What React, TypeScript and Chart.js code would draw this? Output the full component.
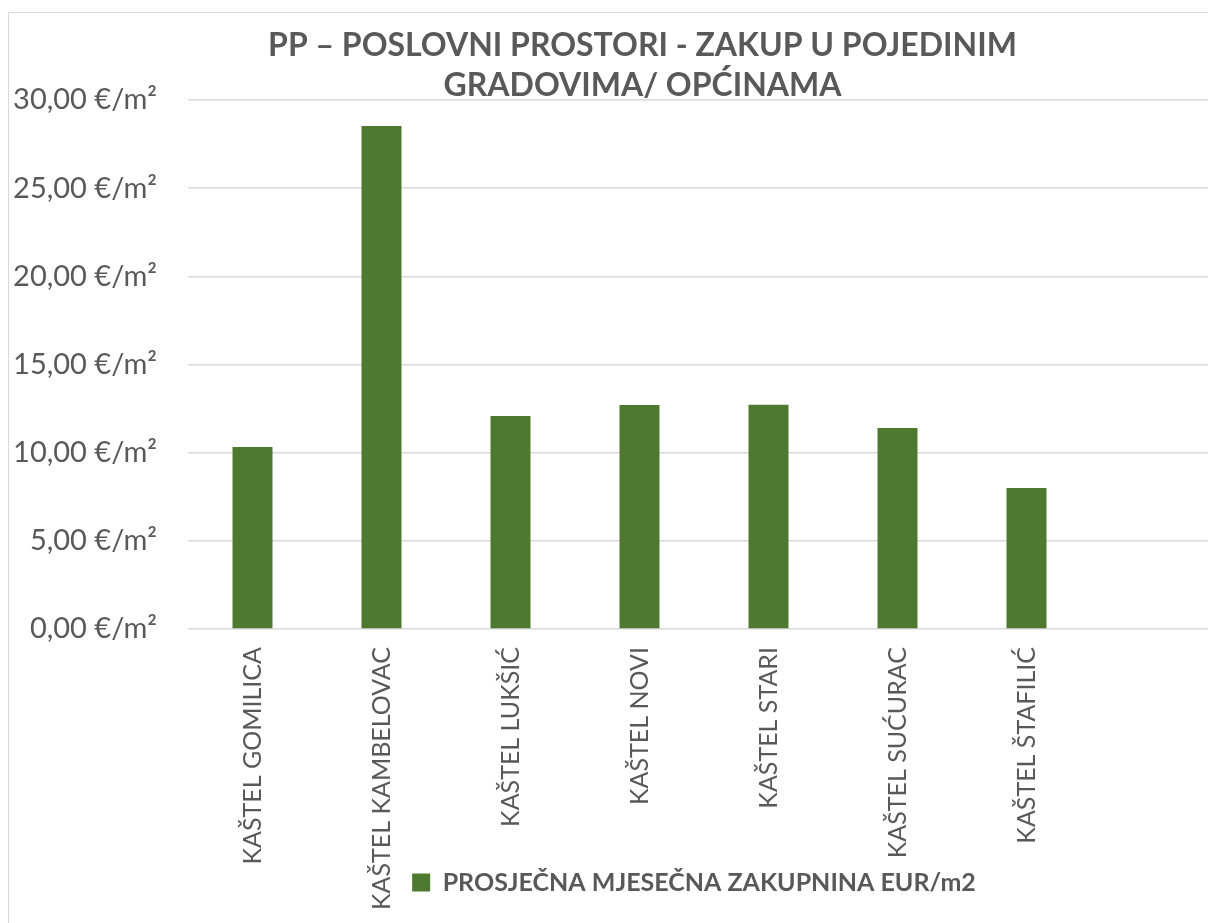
import React, { useEffect, useRef } from "react";
import { Chart, registerables } from "chart.js";

Chart.register(...registerables);

const categories = [
  "KAŠTEL GOMILICA",
  "KAŠTEL KAMBELOVAC",
  "KAŠTEL LUKŠIĆ",
  "KAŠTEL NOVI",
  "KAŠTEL STARI",
  "KAŠTEL SUĆURAC",
  "KAŠTEL ŠTAFILIĆ",
  "",
];
const values: (number | null)[] = [10.32, 28.53, 12.08, 12.7, 12.72, 11.4, 8.0, null];
const seriesLabel = "PROSJEČNA MJESEČNA ZAKUPNINA EUR/m2";
const titleLines = ["PP – POSLOVNI PROSTORI - ZAKUP U POJEDINIM", "GRADOVIMA/ OPĆINAMA"];
const yMin = 0;
const yMax = 30;
const yStep = 5;

const W = 1267;
const H = 910;
const FONT = "Lato, 'Open Sans', sans-serif";
const TEXT = "#595959";
const GRID = "#d9d9d9";
const BAR = "#4e7a30";

const fmt = (v: number) => v.toFixed(2).replace(".", ",") + " €/m²";

const layoutFix = {
  id: "layoutFix",
  afterLayout(chart: any) {
    // let rotated category labels run past the axis box (as in the reference)
    if (chart.scales.x) chart.scales.x.bottom = chart.height;
    if (chart.legend) {
      chart.legend.left -= 10;
      chart.legend.right -= 10;
    }
  },
};

export default function App() {
  const ref = useRef<HTMLCanvasElement>(null);
  useEffect(() => {
    if (!ref.current) return;
    const chart = new Chart(ref.current, {
      type: "bar",
      data: {
        labels: categories,
        datasets: [
          {
            label: seriesLabel,
            data: values,
            backgroundColor: BAR,
            borderWidth: 0,
            barPercentage: 0.62,
            categoryPercentage: 0.5,
            yAxisID: "y",
          },
        ],
      },
      options: {
        responsive: false,
        animation: false,
        devicePixelRatio: 1,
        layout: { padding: { left: 0, right: 0, top: 0, bottom: 18 } },
        plugins: {
          title: {
            display: true,
            text: titleLines,
            color: TEXT,
            font: { family: FONT, size: 32, weight: "bold", lineHeight: 1.25 },
            padding: { top: 13, bottom: -6 },
          },
          legend: {
            position: "bottom",
            fullSize: false,
            labels: {
              color: TEXT,
              boxWidth: 18,
              boxHeight: 18,
              padding: 10,
              font: { family: FONT, size: 25, weight: "bold" },
            },
          },
          tooltip: { enabled: false },
        },
        scales: {
          x: {
            grid: { display: false, drawTicks: false },
            border: { display: false },
            ticks: {
              color: TEXT,
              font: { family: FONT, size: 25 },
              maxRotation: 90,
              minRotation: 90,
              autoSkip: false,
              padding: 18,
            },
            afterFit: (s: any) => {
              s.height = 231;
            },
          },
          y: {
            min: yMin,
            max: yMax,
            grid: { color: GRID, lineWidth: 1.5, drawTicks: false },
            border: { display: false },
            ticks: {
              stepSize: yStep,
              color: TEXT,
              font: { family: FONT, size: 29 },
              padding: 31,
              callback: (v: any) => fmt(Number(v)),
            },
            afterFit: (s: any) => {
              s.width = 179;
            },
          },
          yRightSpace: {
            position: "right",
            min: yMin,
            max: yMax,
            grid: { display: false, drawTicks: false },
            border: { display: false },
            ticks: { display: false },
            afterFit: (s: any) => {
              s.width = 56;
            },
          },
        },
      },
      plugins: [layoutFix],
    });
    return () => chart.destroy();
  }, []);
  return (
    <div
      style={{
        position: "fixed",
        left: 8,
        top: 12,
        width: W,
        height: H,
        border: `1px solid ${GRID}`,
        background: "#fff",
      }}
    >
      <canvas ref={ref} width={W} height={H} style={{ display: "block", width: W, height: H }} />
    </div>
  );
}
